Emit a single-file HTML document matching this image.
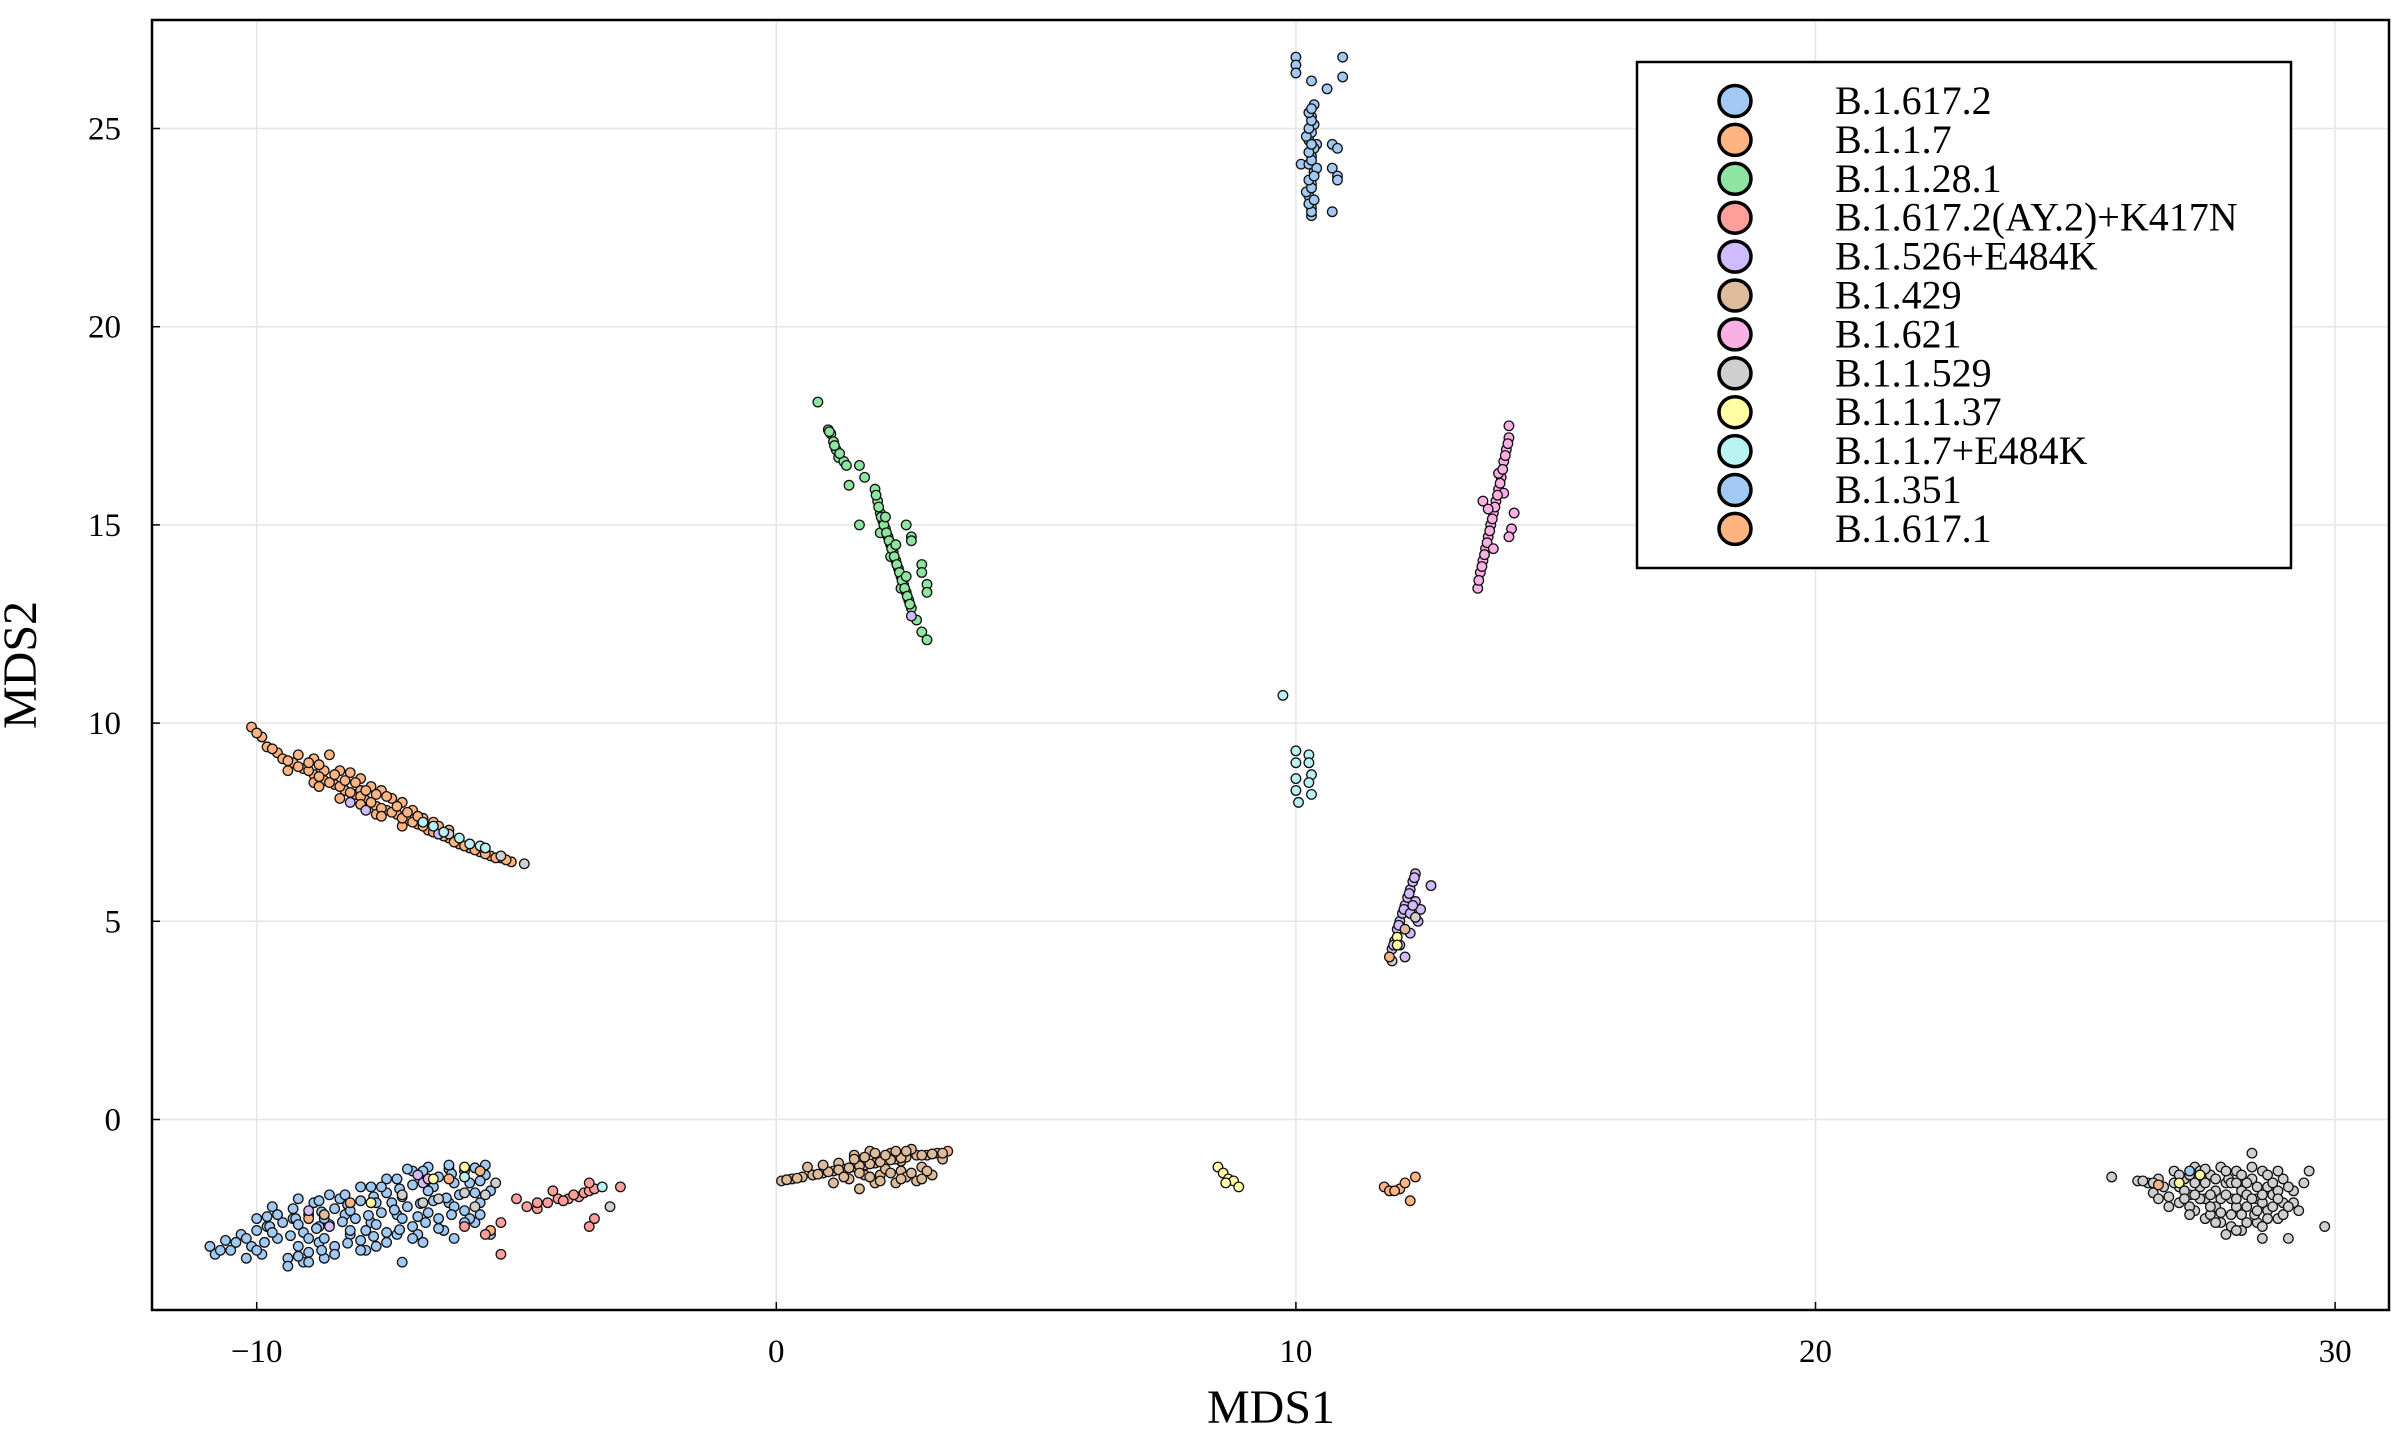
<!DOCTYPE html>
<html><head><meta charset="utf-8"><style>
html,body{margin:0;padding:0;background:#fff;}
svg{display:block;}
text{font-family:"Liberation Serif",serif;fill:#000;}
</style></head><body>
<svg id="chart" width="2400" height="1430" viewBox="0 0 2400 1430" xmlns="http://www.w3.org/2000/svg">
<rect x="0" y="0" width="2400" height="1430" fill="#fff"/>
<g id="grid"></g>
<g id="points"></g>
<rect x="152" y="20" width="2237" height="1290" fill="none" stroke="#000" stroke-width="2.5"/>
<g id="ticks"></g>
<text x="1271" y="1423" font-size="48" text-anchor="middle">MDS1</text>
<text x="0" y="0" font-size="48" text-anchor="middle" transform="translate(36,665) rotate(-90)">MDS2</text>
<g id="legend">
<rect x="1637" y="62" width="654" height="506" fill="#fff" stroke="#000" stroke-width="2.5"/>
</g>
</svg>
<script>
const seriesNames = ["B.1.617.2","B.1.1.7","B.1.1.28.1","B.1.617.2(AY.2)+K417N","B.1.526+E484K","B.1.429","B.1.621","B.1.1.529","B.1.1.1.37","B.1.1.7+E484K","B.1.351","B.1.617.1"];
const xTicks = [-10,0,10,20,30];
const yTicks = [0,5,10,15,20,25];
const xTickLabels = ["\u221210","0","10","20","30"];
const yTickLabels = ["0","5","10","15","20","25"];

const s0 = [[-10.0,-2.8],[-9.5,-2.6],[-9.0,-2.4],[-8.5,-2.25],[-8.0,-2.05],[-7.5,-1.85],[-7.0,-1.65],[-6.5,-1.45],[-6.0,-1.3],[-5.6,-1.15],
[-10.1,-3.2],[-9.6,-3.0],[-9.1,-2.85],[-8.6,-2.65],[-8.1,-2.5],[-7.6,-2.35],[-7.1,-2.2],[-6.6,-2.05],[-6.1,-1.9],[-5.5,-1.8],
[-9.4,-3.5],[-9.0,-3.35],[-8.5,-3.2],[-8.0,-3.05],[-7.5,-2.85],[-7.0,-2.7],[-6.5,-2.5],[-6.0,-2.3],
[-10.9,-3.2],[-10.8,-3.4],[-10.5,-3.3],[-10.3,-2.9],[-9.9,-3.4],[-9.7,-2.2],[-9.4,-3.7],[-9.2,-2.0],[-9.0,-3.0],[-8.8,-2.7],[-8.7,-3.5],[-8.4,-2.0],[-8.2,-2.9],[-8.0,-1.7],[-7.8,-2.6],[-7.7,-3.2],[-7.5,-1.5],[-7.3,-2.9],[-7.2,-3.6],[-7.0,-1.3],[-6.9,-2.45],[-6.8,-3.1],[-6.6,-1.7],[-6.4,-2.8],[-6.3,-1.25],[-6.2,-3.0],[-5.9,-1.6],[-5.8,-2.6],[-5.7,-2.1],[-5.5,-2.9],[-5.6,-1.4],[-8.9,-2.1],[-9.8,-2.7],[-6.8,-1.4],[-7.4,-2.1],
[-9.3,-2.5],[-8.3,-2.4],[-7.3,-2.4],[-6.3,-2.1],[-8.8,-3.1],[-7.9,-2.8],[-6.9,-2.9],[-9.6,-2.4],[-8.6,-1.9],[-7.6,-1.7],[-6.7,-1.2],[-10.2,-3.5],[-9.1,-3.6],[-7.9,-3.3],
[-9.75,-2.7],[-9.25,-2.5],[-8.75,-2.33],[-8.25,-2.15],[-7.75,-1.95],[-7.25,-1.75],[-6.75,-1.55],[-6.25,-1.37],[-5.8,-1.22],
[-9.8,-2.45],[-9.3,-2.25],[-8.8,-2.05],[-8.3,-1.9],[-7.8,-1.7],[-7.3,-1.5],[-6.8,-1.3],[-6.3,-1.15],[-7.1,-1.25],
[-9.85,-3.1],[-9.35,-2.93],[-8.85,-2.75],[-8.35,-2.58],[-7.85,-2.42],[-7.35,-2.28],[-6.85,-2.12],[-6.35,-1.98],[-5.8,-1.85],
[-9.7,-2.85],[-9.2,-2.65],[-8.7,-2.5],[-8.2,-2.3],[-7.7,-2.1],[-7.2,-1.95],[-6.7,-1.8],[-6.2,-1.6],[-5.7,-1.55],
[-9.2,-3.2],[-8.7,-3.0],[-8.2,-2.8],[-7.7,-2.65],[-7.2,-2.5],[-6.7,-2.35],[-6.2,-2.2],[-5.7,-2.4],
[-9.2,-3.45],[-8.75,-3.3],[-8.25,-3.12],[-7.75,-2.95],[-7.25,-2.78],[-6.75,-2.6],[-6.25,-2.4],[-5.9,-2.5],
[-9.0,-3.6],[-8.5,-3.4],[-8.0,-3.3],[-7.5,-3.1],[-7.0,-3.0],[-6.5,-2.75],[-6.0,-2.6],
[-10.6,-3.05],[-10.4,-3.1],[-10.2,-3.0],[-10.0,-3.3],[-10.7,-3.3],[-10.0,-2.5],
[10.0,26.8],[10.0,26.6],[10.0,26.4],[10.3,26.2],[10.6,26.0],[10.9,26.8],[10.9,26.3],[10.7,24.6],[10.8,24.5],[10.7,24.0],[10.8,23.8],[10.8,23.7],[10.7,22.9],[10.1,24.1],[10.4,24.6],
[10.3,22.8],[10.3,23.0],[10.25,23.3],[10.3,23.6],[10.35,23.9],[10.25,24.1],[10.3,24.3],[10.35,24.5],[10.25,24.7],[10.3,24.9],[10.35,25.1],[10.3,25.3],[10.35,25.6],[10.2,23.4],[10.4,24.0],[10.2,24.8],
[10.3,22.9],[10.25,23.1],[10.35,23.2],[10.3,23.5],[10.25,23.7],[10.35,23.8],[10.3,24.2],[10.25,24.4],[10.3,24.6],[10.25,25.0],[10.3,25.2],[10.25,25.4],[10.3,25.5]];
const s1 = [[-10.1,9.9],[-9.9,9.65],[-9.8,9.4],[-9.6,9.25],[-9.5,9.1],[-9.3,9.0],[-9.1,8.85],[-8.9,8.7],[-8.7,8.55],[-8.5,8.45],[-8.3,8.3],[-8.1,8.2],[-7.9,8.05],[-7.7,7.9],[-7.5,7.8],[-7.3,7.7],[-7.1,7.55],[-6.9,7.45],[-6.7,7.3],[-6.5,7.2],[-6.3,7.1],[-6.1,6.95],[-5.9,6.85],[-5.7,6.75],[-5.5,6.65],[-5.3,6.6],[-5.1,6.5],
[-9.2,9.2],[-8.9,9.1],[-8.6,9.2],[-8.4,8.8],[-8.2,8.75],[-8.0,8.6],[-7.8,8.4],[-7.6,8.3],[-7.4,8.1],[-7.2,8.0],[-7.0,7.8],[-6.6,7.5],[-8.7,8.8],[-8.0,8.3],[-7.5,8.15],[-6.8,7.6],[-7.2,7.4],[-8.4,8.1],[-9.4,8.8],[-8.9,8.5],[-7.7,7.7],
[-10.0,9.75],[-9.7,9.35],[-9.4,9.05],[-9.2,8.9],[-9.0,8.8],[-8.8,8.65],[-8.6,8.5],[-8.4,8.4],[-8.2,8.25],[-8.0,8.15],[-7.8,8.0],[-7.6,7.85],[-7.4,7.75],[-7.2,7.6],[-7.0,7.5],[-6.8,7.4],[-6.6,7.25],[-6.4,7.15],[-6.2,7.0],[-6.0,6.9],[-5.8,6.8],[-5.6,6.7],[-5.4,6.6],[-5.2,6.55],[-9.0,9.0],[-8.8,8.95],[-8.5,8.7],[-8.3,8.55],[-8.1,8.5],[-7.9,8.3],[-7.7,8.2],[-7.3,7.9],[-7.1,7.75],[-6.9,7.65],[-6.5,7.4],[-6.3,7.3],[-8.8,8.4],[-8.0,7.95],[-7.6,7.65],
[-5.7,-1.3],[-6.3,-1.5],[-8.2,-2.1],[-9.0,-2.5],[-5.5,-2.8],[2.4,-1.05],[3.3,-0.8]];
const s2 = [[0.8,18.1],[1.0,17.4],[1.05,17.3],[1.1,17.1],[1.15,16.9],[1.2,16.7],[1.3,16.6],[1.35,16.5],[1.4,16.0],[1.6,16.5],[1.7,16.2],[1.6,15.0],
[1.9,15.9],[1.95,15.6],[2.0,15.3],[2.05,15.1],[2.1,14.9],[2.15,14.7],[2.2,14.5],[2.25,14.3],[2.3,14.1],[2.35,13.9],[2.4,13.7],[2.45,13.5],[2.5,13.3],[2.55,13.1],[2.6,12.9],[2.0,14.8],[2.2,14.2],[2.4,13.4],
[1.92,15.75],[1.97,15.45],[2.02,15.2],[2.07,15.0],[2.12,14.8],[2.17,14.6],[2.22,14.4],[2.27,14.2],[2.32,14.0],[2.37,13.8],[2.42,13.6],[2.47,13.4],[2.52,13.2],[2.57,13.0],[2.1,15.2],[2.3,14.5],[2.5,13.7],[1.12,17.0],[1.22,16.8],[1.02,17.35],
[2.5,15.0],[2.6,14.7],[2.6,14.6],[2.8,14.0],[2.8,13.8],[2.9,13.5],[2.9,13.3],[2.7,12.6],[2.8,12.3],[2.9,12.1]];
const s3 = [[-4.8,-2.2],[-4.6,-2.25],[-4.4,-2.1],[-4.2,-2.0],[-4.0,-2.0],[-3.8,-1.95],[-3.7,-1.85],[-3.6,-1.8],[-3.5,-1.75],[-4.3,-1.8],[-3.6,-1.6],[-3.0,-1.7],[-3.5,-2.5],[-3.6,-2.7],[-5.3,-3.4],[-4.6,-2.1],[-5.0,-2.0],[-5.6,-2.9],[-5.3,-2.6],[-6.0,-2.7],[-3.9,-1.9],[-4.1,-2.05]];
const s4 = [[11.85,4.3],[11.9,4.5],[11.95,4.8],[12.0,5.0],[12.05,5.2],[12.1,5.4],[12.15,5.6],[12.2,5.8],[12.25,6.0],[12.3,6.2],[12.6,5.9],[12.4,5.3],[12.35,5.0],[12.1,4.1],[12.3,5.5],[12.0,4.4],[12.2,4.7],
[11.88,4.4],[11.98,4.9],[12.08,5.3],[12.18,5.7],[12.28,6.1],[12.2,5.2],[12.25,5.4],
[2.6,12.7],[-9.0,-2.3],[-6.9,-1.4],[-6.8,-1.6],[-8.6,-2.7],[-8.2,8.0],[-7.9,7.8],[-6.5,7.2]];
const s5 = [[0.1,-1.55],[0.3,-1.5],[0.5,-1.45],[0.7,-1.4],[0.9,-1.35],[1.1,-1.3],[1.3,-1.25],[1.5,-1.2],[1.7,-1.15],[1.9,-1.1],[2.1,-1.05],[2.3,-1.0],[2.5,-0.95],[2.7,-0.9],[2.9,-0.9],[3.1,-0.85],
[0.6,-1.2],[1.4,-1.5],[1.5,-0.9],[1.6,-1.75],[1.8,-0.8],[2.0,-1.4],[2.2,-0.85],[2.3,-1.6],[2.4,-1.3],[2.6,-0.75],[2.7,-1.55],[2.8,-1.2],[3.0,-1.4],[3.2,-1.0],[1.9,-1.6],[2.5,-1.45],[1.2,-1.1],[2.1,-1.25],[1.7,-1.4],[2.9,-1.3],
[0.2,-1.52],[0.4,-1.48],[0.8,-1.38],[1.0,-1.32],[1.2,-1.27],[1.4,-1.22],[1.6,-1.17],[1.8,-1.12],[2.0,-1.07],[2.2,-1.02],[2.4,-0.97],[2.8,-0.9],[3.0,-0.87],[3.2,-0.85],[1.5,-1.0],[1.7,-0.95],[1.9,-0.85],[2.1,-0.9],[2.3,-0.8],[2.5,-0.8],[1.6,-1.35],[1.8,-1.45],[2.0,-1.55],[2.2,-1.35],[2.4,-1.5],[2.6,-1.35],[2.8,-1.5],[1.3,-1.45],[1.1,-1.6],[0.9,-1.15],
[-8.7,-2.4],[12.1,4.8]];
const s6 = [[13.5,13.4],[13.55,13.8],[13.6,14.1],[13.65,14.4],[13.7,14.7],[13.75,15.0],[13.8,15.3],[13.85,15.6],[13.9,15.9],[13.95,16.2],[14.0,16.6],[14.05,16.9],[14.1,17.2],[14.1,17.5],[13.6,15.6],[14.2,15.3],[14.15,14.9],[14.1,14.7],[13.9,16.3],[14.0,15.8],
[13.52,13.6],[13.58,13.95],[13.63,14.25],[13.68,14.55],[13.73,14.85],[13.78,15.15],[13.83,15.45],[13.88,15.75],[13.93,16.05],[13.98,16.4],[14.03,16.75],[14.08,17.05],[13.7,15.4],[13.8,14.4],[-6.7,-1.5]];
const s7 = [[25.7,-1.45],[26.2,-1.55],[26.4,-1.6],[26.5,-1.85],[26.6,-1.5],[26.8,-1.95],[26.9,-1.3],[27.0,-1.7],[27.0,-2.1],[27.1,-1.5],[27.2,-1.9],[27.3,-2.3],[27.3,-1.2],[27.4,-1.7],[27.5,-2.0],[27.5,-2.5],[27.6,-1.4],[27.7,-1.8],[27.7,-2.2],[27.8,-2.6],[27.8,-1.2],[27.9,-1.6],[28.0,-2.0],[28.0,-2.4],[28.1,-1.3],[28.2,-1.8],[28.2,-2.8],[28.3,-2.2],[28.4,-1.5],[28.4,-0.85],[28.5,-2.0],[28.5,-2.6],[28.6,-1.3],[28.7,-1.7],[28.7,-2.3],[28.8,-1.9],[28.9,-2.5],[29.0,-1.5],[29.0,-2.1],[29.1,-3.0],[29.2,-1.8],[29.3,-2.3],[29.4,-1.6],[29.5,-1.3],[29.8,-2.7],[28.6,-3.0],[29.2,-2.1],[27.2,-1.4],[26.8,-2.2],[27.9,-2.9],
[27.4,-1.3],[27.6,-2.4],[28.1,-2.2],[28.3,-1.6],[28.6,-2.1],[27.1,-1.8],[28.9,-1.8],[27.95,-1.5],[28.45,-2.4],[26.7,-1.7],
[26.9,-1.6],[27.1,-2.0],[27.2,-2.2],[27.3,-1.6],[27.4,-2.0],[27.5,-1.6],[27.5,-1.25],[27.6,-1.9],[27.6,-2.2],[27.7,-1.5],[27.8,-2.0],[27.8,-2.35],[27.9,-1.3],[27.9,-1.9],[28.0,-1.6],[28.0,-2.7],[28.1,-2.0],[28.1,-1.6],[28.2,-2.4],[28.2,-1.4],[28.3,-1.9],[28.3,-2.6],[28.4,-2.0],[28.4,-1.2],[28.5,-1.7],[28.5,-2.3],[28.6,-1.9],[28.7,-1.4],[28.7,-2.5],[28.8,-2.2],[28.8,-1.6],[28.9,-2.0],[29.0,-2.4],[29.1,-1.7],[29.1,-2.2],[27.0,-1.4],[26.5,-1.6],[26.6,-2.0],[27.3,-1.9],[27.7,-2.6],[28.1,-2.8],[28.6,-2.7],[26.3,-1.55],[27.2,-2.4],[28.9,-1.3],
[-6.5,-2.0],[-6.0,-1.85],[-5.6,-1.9],[-6.8,-2.1],[-5.4,-1.6],[-7.2,-1.9],[-5.8,-2.2],[-3.2,-2.2],[-4.85,6.45],[-5.3,6.65],[-6.3,7.2],[12.3,5.1],[11.85,4.0]];
const s8 = [[8.5,-1.2],[8.6,-1.35],[8.7,-1.5],[8.8,-1.55],[8.9,-1.7],[8.65,-1.6],[11.95,4.6],[11.95,4.4],[-6.0,-1.2],[-7.8,-2.1],[-6.6,-1.5],[27.0,-1.6],[27.4,-1.4]];
const s9 = [[9.75,10.7],[10.0,9.3],[10.0,9.0],[10.0,8.6],[10.0,8.3],[10.05,8.0],[10.25,9.2],[10.25,9.0],[10.3,8.7],[10.25,8.5],[10.3,8.2],
[-6.8,7.5],[-6.6,7.4],[-6.4,7.25],[-6.1,7.1],[-5.9,6.95],[-5.7,6.9],[-5.6,6.85],[-6.0,-1.45],[-3.35,-1.7]];
const s10 = [[27.2,-1.3]];
const s11 = [[11.7,-1.7],[11.8,-1.8],[12.0,-1.75],[12.1,-1.6],[12.2,-2.05],[12.3,-1.45],[11.9,-1.8],[11.8,4.1],[26.6,-1.65]];
const seriesData = [s0,s1,s2,s3,s4,s5,s6,s7,s8,s9,s10,s11];
const colors = ["#a1c9f4","#ffb482","#8de5a1","#ff9f9b","#d0bbff","#debb9b","#fab0e4","#cfcfcf","#fffea3","#b9f2f0","#a1c9f4","#ffb482"];

const NS = "http://www.w3.org/2000/svg";
const X0 = 776.3, XS = 51.96, Y0 = 1119.5, YS = 39.64;
function sx(v){ return X0 + XS * v; }
function sy(v){ return Y0 - YS * v; }
function mk(tag, attrs){ const e = document.createElementNS(NS, tag); for (const k in attrs) e.setAttribute(k, attrs[k]); return e; }

const grid = document.getElementById('grid');
xTicks.forEach(function(t){
  const l = mk('line', {x1:sx(t), x2:sx(t), y1:20, y2:1310, stroke:'#e5e5e5', 'stroke-width':1.5});
  
  
  grid.appendChild(l);
});
yTicks.forEach(function(t){
  const l = mk('line', {x1:152, x2:2389, y1:sy(t), y2:sy(t), stroke:'#e5e5e5', 'stroke-width':1.5});
  
  
  grid.appendChild(l);
});

const ticks = document.getElementById('ticks');
xTicks.forEach(function(t, i){
  const tk = mk('line', {x1:sx(t), x2:sx(t), y1:1310, y2:1302, stroke:'#000', 'stroke-width':1.5});
  
  
  ticks.appendChild(tk);
  const tx = mk('text', {x:sx(t), y:1362, 'font-size':33, 'text-anchor':'middle'});
  tx.textContent = xTickLabels[i];
  
  
  ticks.appendChild(tx);
});
yTicks.forEach(function(t, i){
  const tk = mk('line', {x1:152, x2:160, y1:sy(t), y2:sy(t), stroke:'#000', 'stroke-width':1.5});
  
  
  ticks.appendChild(tk);
  const tx = mk('text', {x:121, y:sy(t)+11, 'font-size':33, 'text-anchor':'end'});
  tx.textContent = yTickLabels[i];
  
  
  ticks.appendChild(tx);
});

const pts = document.getElementById('points');
seriesData.forEach(function(arr, si){
  const g = mk('g', {});
  
  
  arr.forEach(function(p){
    const c = mk('circle', {cx:sx(p[0]), cy:sy(p[1]), r:4.8, fill:colors[si], stroke:'#111', 'stroke-width':1.3});
    
    
    g.appendChild(c);
  });
  pts.appendChild(g);
});

const legend = document.getElementById('legend');
seriesNames.forEach(function(name, i){
  const y = 101 + i * 38.9;
  const g = mk('g', {});
  
  
  const c = mk('ellipse', {cx:1735, cy:y, rx:16, ry:15.5, fill:colors[i], stroke:'#000', 'stroke-width':3.5});
  
  
  g.appendChild(c);
  const t = mk('text', {x:1835, y:y+13, 'font-size':40, textLength: null});
  t.removeAttribute('textLength');
  t.textContent = name;
  
  
  g.appendChild(t);
  legend.appendChild(g);
});
</script>
</body></html>
